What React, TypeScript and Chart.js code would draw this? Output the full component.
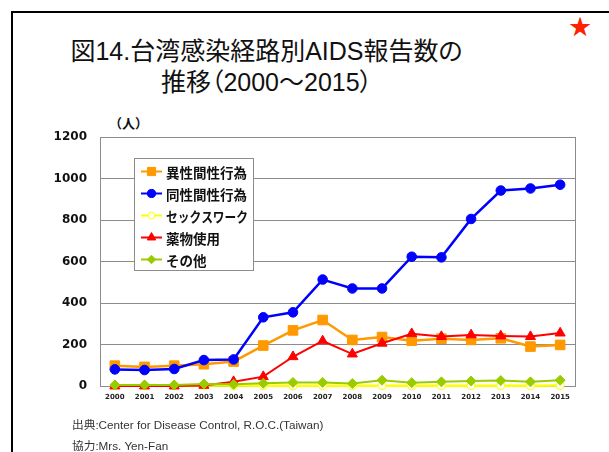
import React, { useEffect, useRef } from "react";
import { Chart, registerables } from "chart.js";

Chart.register(...registerables);

const years = ["2000", "2001", "2002", "2003", "2004", "2005", "2006", "2007", "2008", "2009", "2010", "2011", "2012", "2013", "2014", "2015"];
const heteroSex = [98, 92, 98, 105, 118, 195, 268, 318, 222, 236, 218, 228, 222, 230, 190, 198];
const homoSex = [80, 77, 82, 125, 128, 331, 355, 513, 470, 470, 623, 620, 805, 942, 952, 970];
const sexWork = [2, 1, 1, 2, 2, 1, 1, 1, 1, 1, 1, 1, 1, 1, 1, 2];
const drugUse = [0, 0, 0, 3, 21, 45, 141, 217, 154, 206, 252, 238, 246, 241, 238, 255];
const others = [5, 5, 5, 10, 8, 13, 17, 17, 12, 28, 16, 20, 24, 26, 20, 28];
const seriesLabels = ["異性間性行為", "同性間性行為", "セックスワーク", "薬物使用", "その他"];
const yMin = 0;
const yMax = 1200;
const yStep = 200;

const titleLine1 = "図14.台湾感染経路別AIDS報告数の";
const titleLine2 = "推移（2000～2015）";
const unitLabel = "（人）";
const sourceLine = "出典:Center for Disease Control, R.O.C.(Taiwan)";
const creditLine = "協力:Mrs. Yen-Fan";

type MarkerDef = { style: string; radius: number; fill: string; stroke: string };

function drawMarker(ctx: CanvasRenderingContext2D, x: number, y: number, m: MarkerDef) {
  ctx.save();
  ctx.fillStyle = m.fill;
  ctx.strokeStyle = m.stroke;
  ctx.lineWidth = 1;
  ctx.beginPath();
  const r = m.radius;
  if (m.style === "rect") {
    const s = r * Math.SQRT1_2;
    ctx.rect(x - s, y - s, 2 * s, 2 * s);
  } else if (m.style === "circle") {
    ctx.arc(x, y, r, 0, Math.PI * 2);
  } else if (m.style === "triangle") {
    ctx.moveTo(x, y - r);
    ctx.lineTo(x + r * 0.866, y + r * 0.5);
    ctx.lineTo(x - r * 0.866, y + r * 0.5);
    ctx.closePath();
  } else if (m.style === "rectRot") {
    ctx.moveTo(x, y - r);
    ctx.lineTo(x + r, y);
    ctx.lineTo(x, y + r);
    ctx.lineTo(x - r, y);
    ctx.closePath();
  }
  ctx.fill();
  ctx.stroke();
  ctx.restore();
}

const frameBox = {
  id: "frameBox",
  beforeDatasetsDraw(chart: any) {
    const { ctx, chartArea: a } = chart;
    ctx.save();
    ctx.strokeStyle = "#8c8c8c";
    ctx.lineWidth = 1;
    ctx.strokeRect(Math.round(a.left) + 0.5, Math.round(a.top) + 0.5, Math.round(a.right - a.left), Math.round(a.bottom - a.top));
    ctx.restore();
  },
};

const boxLegend = {
  id: "boxLegend",
  afterDatasetsDraw(chart: any) {
    const { ctx } = chart;
    const left = 134;
    const top = 158;
    const w = 119;
    const h = 112;
    ctx.save();
    ctx.fillStyle = "#ffffff";
    ctx.fillRect(left, top, w, h);
    ctx.strokeStyle = "#8c8c8c";
    ctx.lineWidth = 1;
    ctx.strokeRect(left + 0.5, top + 0.5, w, h);
    chart.data.datasets.forEach((ds: any, i: number) => {
      const y = top + 13.5 + i * 22;
      ctx.strokeStyle = ds.borderColor;
      ctx.lineWidth = 2;
      ctx.beginPath();
      ctx.moveTo(141, y);
      ctx.lineTo(162, y);
      ctx.stroke();
      drawMarker(ctx, 151.5, y, {
        style: ds.pointStyle,
        radius: ds.pointRadius * 0.85,
        fill: ds.pointBackgroundColor,
        stroke: ds.pointBorderColor,
      });
      ctx.fillStyle = "#111111";
      ctx.font = "bold 13.5px 'Noto Sans CJK JP'";
      ctx.textBaseline = "middle";
      ctx.textAlign = "left";
      ctx.fillText(ds.label, 166, y + 1, 82);
    });
    ctx.restore();
  },
};

export default function App() {
  const canvasRef = useRef<HTMLCanvasElement | null>(null);

  useEffect(() => {
    if (!canvasRef.current) return;
    const mk = (
      label: string,
      data: number[],
      color: string,
      style: string,
      radius: number,
      fill: string,
      width: number,
      order: number
    ) => ({
      label,
      data,
      borderColor: color,
      backgroundColor: color,
      borderWidth: width,
      pointStyle: style,
      pointRadius: radius,
      pointHoverRadius: radius,
      pointBackgroundColor: fill,
      pointBorderColor: color,
      pointBorderWidth: 1,
      tension: 0,
      clip: false,
      order,
    });
    const chart = new Chart(canvasRef.current, {
      type: "line",
      data: {
        labels: years,
        datasets: [
          mk(seriesLabels[0], heteroSex, "#FF9900", "rect", 6.8, "#FF9900", 2.5, 5),
          mk(seriesLabels[1], homoSex, "#0000FF", "circle", 4.8, "#0000FF", 2.5, 4),
          mk(seriesLabels[2], sexWork, "#FFFF00", "circle", 4, "#FFFFFF", 2.5, 3),
          mk(seriesLabels[3], drugUse, "#FF0000", "triangle", 5.8, "#FF0000", 2, 2),
          mk(seriesLabels[4], others, "#99CC00", "rectRot", 5, "#99CC00", 2, 1),
        ] as any,
      },
      options: {
        animation: false,
        responsive: false,
        maintainAspectRatio: false,
        layout: { padding: { left: 50, right: 34, top: 137, bottom: 46 } },
        plugins: {
          legend: { display: false },
          tooltip: { enabled: false },
          title: { display: false },
        },
        scales: {
          x: {
            offset: true,
            grid: { display: false, drawTicks: false },
            border: { display: false },
            ticks: {
              padding: 7,
              color: "#222222",
              font: { family: "'DejaVu Sans'", size: 7, weight: "bold" },
              maxRotation: 0,
              autoSkip: false,
            },
            afterFit: (s: any) => {
              s.height = 20;
            },
          },
          y: {
            min: yMin,
            max: yMax,
            grid: { color: "#8c8c8c", lineWidth: 1, drawTicks: false },
            border: { display: false },
            ticks: {
              stepSize: yStep,
              padding: 13,
              color: "#111111",
              font: { family: "'DejaVu Sans'", size: 12, weight: "bold" },
              callback: (v: any) => String(v),
            },
            afterFit: (s: any) => {
              s.width = 50;
            },
          },
        },
      },
      plugins: [frameBox, boxLegend],
    });
    return () => chart.destroy();
  }, []);

  return (
    <div style={{ position: "fixed", left: 0, top: 0, width: 609, height: 452, overflow: "hidden", background: "#ffffff" }}>
      <div style={{ position: "absolute", left: 11, top: 11, width: 700, height: 600, border: "2px solid #000000", boxSizing: "border-box" }} />
      <div style={{ position: "absolute", left: 568, top: 11, fontSize: 27, color: "#ff2200", lineHeight: "32px", fontFamily: "'DejaVu Sans'" }}>★</div>
      <div
        style={{
          position: "absolute",
          left: 0,
          width: 533,
          top: 36,
          textAlign: "center",
          fontFamily: "'Liberation Sans', 'Noto Sans CJK JP'",
          fontSize: 25,
          lineHeight: "31px",
          color: "#111111",
          fontFeatureSettings: '"palt"',
        }}
      >
        <div>{titleLine1}</div>
        <div>{titleLine2}</div>
      </div>
      <div style={{ position: "absolute", left: 109, top: 114, fontFamily: "'Noto Sans CJK JP'", fontWeight: "bold", fontSize: 13, lineHeight: "18px", color: "#111111" }}>
        {unitLabel}
      </div>
      <canvas ref={canvasRef} width={609} height={452} style={{ position: "absolute", left: 0, top: 0, width: 609, height: 452 }} />
      <div style={{ position: "absolute", left: 72, top: 417, fontFamily: "'Liberation Sans', 'Noto Sans CJK JP'", fontSize: 11.7, lineHeight: "16px", color: "#333333" }}>
        {sourceLine}
      </div>
      <div style={{ position: "absolute", left: 72, top: 438, fontFamily: "'Liberation Sans', 'Noto Sans CJK JP'", fontSize: 11.7, lineHeight: "16px", color: "#333333" }}>
        {creditLine}
      </div>
    </div>
  );
}
